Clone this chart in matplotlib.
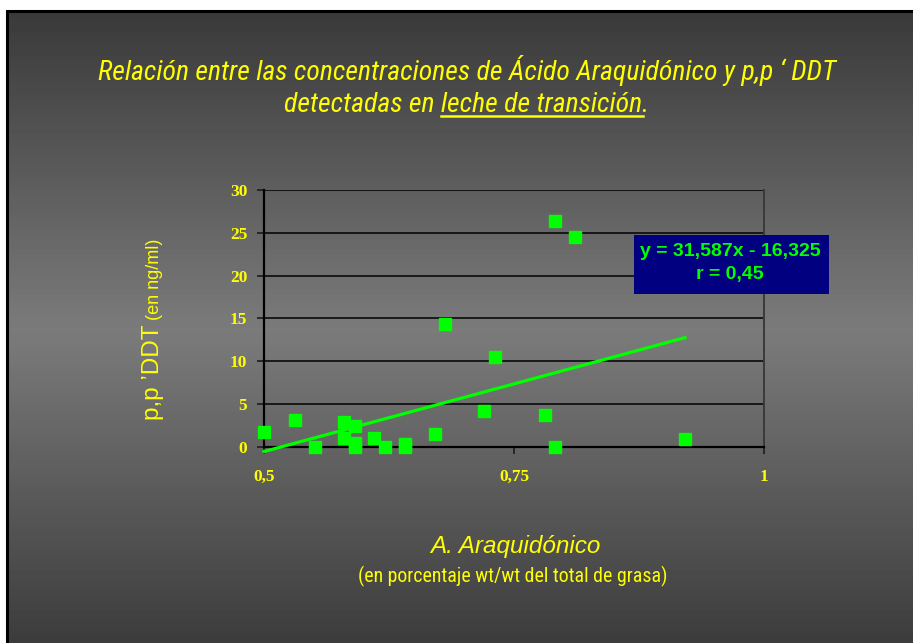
import matplotlib
matplotlib.use("Agg")
import matplotlib.pyplot as plt
import numpy as np
from matplotlib.patches import Rectangle
from matplotlib import font_manager

# --- data ---
acido_arq = [0.500, 0.531, 0.551, 0.580, 0.580, 0.591, 0.591, 0.591, 0.610, 0.621,
             0.641, 0.641, 0.671, 0.681, 0.720, 0.731, 0.781, 0.791, 0.791, 0.811, 0.921]
ddt = [1.7, 3.2, 0.0, 2.9, 1.0, 2.4, 0.5, 0.0, 1.0, 0.0,
       0.4, 0.0, 1.5, 14.4, 4.2, 10.5, 3.7, 26.4, 0.0, 24.5, 0.9]
slope, intercept = 31.587, -16.325
x_ticks = [0.5, 0.75, 1.0]
x_ticklabels = ["0,5", "0,75", "1"]
y_ticks = [0, 5, 10, 15, 20, 25, 30]

W, H = 913, 643
YELLOW = "#ffff00"
GREEN = "#00ff00"

# narrow font if there is one, otherwise plain Liberation Sans a bit smaller
names = {f.name for f in font_manager.fontManager.ttflist}
narrow = None
for cand in ["Liberation Sans Narrow", "Roboto Condensed", "Open Sans Condensed"]:
    if cand in names:
        narrow = cand
        break
if narrow:
    TITLE_FONT, TITLE_SIZE, SUB_SIZE = narrow, 20, 14.3
else:
    TITLE_FONT, TITLE_SIZE, SUB_SIZE = "Liberation Sans", 17.1, 13


def px(x):
    return x / W


def py(y):
    return 1 - y / H


fig = plt.figure(figsize=(W / 100, H / 100), dpi=100)

# background gradient (dark - light - dark)
bg = fig.add_axes([0, 0, 1, 1], zorder=-10)
rows = np.arange(H)
grey = np.interp(rows, [0, 13, 330, 643], [58, 58, 123, 60]) / 255
img = np.repeat(grey[:, None], 2, axis=1)
bg.imshow(img, cmap="gray", vmin=0, vmax=1, aspect="auto", extent=[0, 1, 0, 1])
bg.set_axis_off()
bg.add_patch(Rectangle((0, py(11)), 1, 11 / H, color="white", transform=bg.transAxes))
bg.add_patch(Rectangle((0, 0), px(7), 1, color="white", transform=bg.transAxes))
bg.add_patch(Rectangle((px(7), -0.1), 1.1, py(11) + 0.1, facecolor="none", edgecolor="black",
                       linewidth=2.2, transform=bg.transAxes, clip_on=False))

# --- plot area ---
ax = fig.add_axes([px(264), py(447), px(764) - px(264), py(190) - py(447)])
ax.patch.set_alpha(0)
ax.set_xlim(0.5, 1.0)
ax.set_ylim(0, 30)
ax.set_xticks(x_ticks)
ax.set_xticklabels(x_ticklabels)
ax.set_yticks(y_ticks)
ax.yaxis.grid(True, color="black", linewidth=1.1)
ax.set_axisbelow(True)
ax.spines["top"].set_visible(False)
ax.spines["left"].set_color("black")
ax.spines["left"].set_linewidth(1.6)
ax.spines["bottom"].set_color("black")
ax.spines["bottom"].set_linewidth(1.6)
ax.spines["right"].set_color("#3a3a3a")
ax.spines["right"].set_linewidth(1.4)
ax.tick_params(axis="both", length=5, width=1.3, color="#222222", labelcolor=YELLOW, labelsize=12.5)
ax.tick_params(axis="y", pad=7)
ax.tick_params(axis="x", pad=11)
for lab in ax.get_xticklabels() + ax.get_yticklabels():
    lab.set_fontfamily("Liberation Serif")
    lab.set_fontweight("bold")

# trend line across the data range
xs = np.array([min(acido_arq), max(acido_arq)])
ax.plot(xs, slope * xs + intercept, color=GREEN, linewidth=2.3, clip_on=False, zorder=3)
ax.plot(acido_arq, ddt, "s", color=GREEN, markersize=8, clip_on=False, zorder=4)

# equation box
fig.patches.append(Rectangle((px(634), py(294)), px(829) - px(634), py(235) - py(294),
                             facecolor="#000080", edgecolor="none", transform=fig.transFigure))
fig.text(px(730), py(251), "y = 31,587x - 16,325", color=GREEN, fontsize=14, fontweight="bold",
         family="Liberation Sans", ha="center", va="center")
fig.text(px(730), py(275), "r = 0,45", color=GREEN, fontsize=14, fontweight="bold",
         family="Liberation Sans", ha="center", va="center")

# title
fig.text(px(467), py(80), "Relación entre las concentraciones de Ácido Araquidónico y p,p ‘ DDT",
         color=YELLOW, fontsize=TITLE_SIZE, style="italic", family=TITLE_FONT, ha="center", va="baseline")
line2 = fig.text(px(467), py(112), "detectadas en leche de transición.",
                 color=YELLOW, fontsize=TITLE_SIZE, style="italic", family=TITLE_FONT, ha="center",
                 va="baseline")
part = fig.text(0, 0, "leche de transición", fontsize=TITLE_SIZE, style="italic", family=TITLE_FONT, alpha=0)
dot = fig.text(0, 0, ".", fontsize=TITLE_SIZE, style="italic", family=TITLE_FONT, alpha=0)
r = fig.canvas.get_renderer()
full = line2.get_window_extent(r)
w_part = part.get_window_extent(r).width
w_dot = dot.get_window_extent(r).width
u_end = full.x1 - w_dot
u_start = u_end - w_part
fig.lines.append(plt.Line2D([u_start / W, u_end / W], [py(116), py(116)], color=YELLOW,
                            linewidth=1.8, transform=fig.transFigure))

# y label in two sizes
yl1 = fig.text(px(159), py(420), "p,p \u2019DDT", color=YELLOW, fontsize=17.5, family="Liberation Sans",
               rotation=90, rotation_mode="anchor", ha="left", va="baseline")
len1 = yl1.get_window_extent(r).height
fig.text(px(159), py(420 - len1 - 4), "(en ng/ml)", color=YELLOW, fontsize=13,
         family="Liberation Sans", rotation=90, rotation_mode="anchor", ha="left", va="baseline")

# x label
fig.text(px(515), py(553), "A. Araquidónico", color=YELLOW, fontsize=17.5, style="italic",
         family="Liberation Sans", ha="center", va="baseline")
fig.text(px(513), py(582), "(en porcentaje wt/wt del total de grasa)", color=YELLOW, fontsize=SUB_SIZE,
         family=TITLE_FONT if narrow else "Liberation Sans", ha="center", va="baseline")

fig.savefig("out.png", dpi=100)
